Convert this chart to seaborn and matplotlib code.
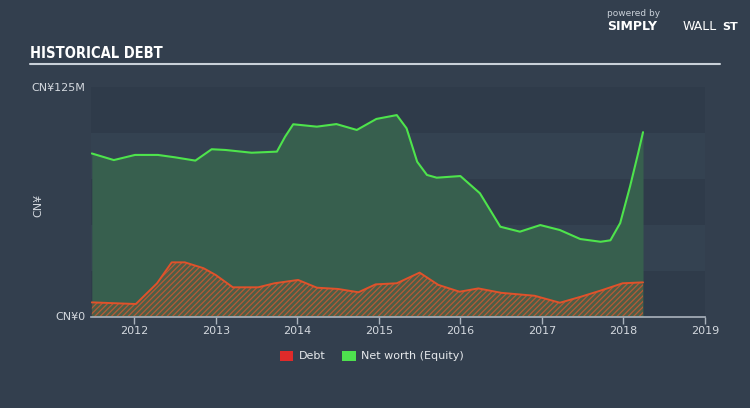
import matplotlib
matplotlib.use("Agg")
import matplotlib.pyplot as plt
import seaborn as sns
import pandas as pd
from matplotlib.patches import Patch
from matplotlib.lines import Line2D

sns.set_theme(style="dark")
plt.rcParams['font.family'] = ['DejaVu Sans']
plt.rcParams['hatch.linewidth'] = 0.9

# ---- data (CNY millions) ----
nw_years = [2011.48, 2011.75, 2012.01, 2012.29, 2012.50, 2012.75, 2012.95, 2013.12,
            2013.44, 2013.75, 2013.85, 2013.95, 2014.24, 2014.48, 2014.73, 2014.97,
            2015.22, 2015.34, 2015.47, 2015.59, 2015.71, 2016.00, 2016.24, 2016.49,
            2016.73, 2016.98, 2017.22, 2017.47, 2017.72, 2017.84, 2017.96, 2018.08,
            2018.18, 2018.24]
net_worth = [88.8, 85.2, 88.0, 88.0, 86.7, 84.9, 91.1, 90.7,
             89.2, 89.8, 97.9, 104.7, 103.4, 104.8, 101.6, 107.6,
             109.7, 102.5, 84.3, 77.1, 75.6, 76.5, 67.1, 48.9,
             46.2, 49.8, 47.1, 42.2, 40.7, 41.5, 50.9, 70.7,
             88.9, 100.4]

debt_years = [2011.48, 2012.02, 2012.28, 2012.46, 2012.62, 2012.85, 2013.00, 2013.21,
              2013.52, 2013.72, 2014.01, 2014.24, 2014.50, 2014.75, 2014.96, 2015.22,
              2015.50, 2015.73, 2015.99, 2016.22, 2016.50, 2016.91, 2017.22, 2017.48,
              2017.74, 2017.99, 2018.24]
debt = [7.7, 6.8, 18.1, 29.5, 29.5, 26.3, 22.6, 15.9,
        15.9, 18.1, 19.9, 15.7, 15.0, 13.2, 17.5, 18.1,
        23.9, 17.2, 13.5, 15.3, 12.9, 11.3, 7.5, 10.8,
        14.4, 18.1, 18.6]

year_ticks = [2012, 2013, 2014, 2015, 2016, 2017, 2018, 2019]
y_ticks = [0, 125]
y_tick_labels = ["CN¥0", "CN¥125M"]

BG = "#333f4e"
BAND_DARK = "#2f3b4a"
BAND_LIGHT = "#344251"
GREEN = "#4ee44c"
GREEN_FILL = "#375f4e"
RED_LINE = "#e0522b"
TXT = "#d3d8de"

fig = plt.figure(figsize=(7.5, 4.08), dpi=100, facecolor=BG)
ax = fig.add_axes([91/750, 1 - 316.5/408, 614/750, 229.5/408])
ax.set_facecolor(BAND_LIGHT)

for lo in (0, 50, 100):
    ax.axhspan(lo, lo + 25, color=BAND_DARK, zorder=0, lw=0)

nw_df = pd.DataFrame({"year": nw_years, "value": net_worth})
debt_df = pd.DataFrame({"year": debt_years, "value": debt})

ax.fill_between(nw_years, net_worth, 0, color=GREEN_FILL, lw=0, zorder=1)
ax.fill_between(debt_years, debt, 0, facecolor="#4d5e46", edgecolor="#b65a36",
                hatch="//////", lw=0, zorder=2)
sns.lineplot(data=debt_df, x="year", y="value", color=RED_LINE, lw=1.4, ax=ax, zorder=3)
sns.lineplot(data=nw_df, x="year", y="value", color=GREEN, lw=1.5, ax=ax, zorder=4)

ax.set_xlim(2011.47, 2019.0)
ax.set_ylim(0, 125)
ax.set_xticks(year_ticks)
ax.set_xticklabels([str(y) for y in year_ticks], color=TXT, fontsize=8)
ax.set_yticks(y_ticks)
ax.set_yticklabels(y_tick_labels, color=TXT, fontsize=8)
ax.tick_params(axis="x", length=5, width=1, color="#aab3bd", pad=2, direction="out", bottom=True)
ax.tick_params(axis="y", length=0, pad=4)
ax.set_xlabel("")
ax.set_ylabel("")
ax.grid(False)
for s in ("top", "right", "left"):
    ax.spines[s].set_visible(False)
ax.spines["bottom"].set_color("#aab3bd")
ax.spines["bottom"].set_linewidth(1.2)

# y-axis unit label
fig.text(38/750, 1 - 205/408, "CN¥", rotation=90, color=TXT, fontsize=8,
         ha="center", va="center")

# title and rule
fig.text(30/750, 1 - 53/408, "HISTORICAL DEBT", color="white", fontsize=10.5,
         fontweight="bold", family=["Liberation Sans Narrow", "DejaVu Sans"],
         fontstretch="condensed", ha="left", va="center")
fig.add_artist(Line2D([30/750, 720/750], [1 - 64/408, 1 - 64/408],
                      color="#c9d0d8", lw=1.5, transform=fig.transFigure))

# branding
fig.text(607/750, 1 - 14/408, "powered by", color="#c9d0d8", fontsize=6.5, ha="left", va="center")
fig.text(607/750, 1 - 27/408, "SIMPLY", color="white", fontsize=9, fontweight="bold",
         ha="left", va="center")
fig.text(683/750, 1 - 27/408, "WALL", color="white", fontsize=9, ha="left", va="center")
fig.text(722/750, 1 - 27/408, "ST", color="white", fontsize=8, fontweight="bold",
         ha="left", va="center")

# legend
handles = [Patch(facecolor="#e02a2a", edgecolor="none", label="Debt"),
           Patch(facecolor="#4ee04e", edgecolor="none", label="Net worth (Equity)")]
leg = fig.legend(handles=handles, loc="center", bbox_to_anchor=(372/750, 1 - 356/408),
                 ncol=2, frameon=False, fontsize=8, handlelength=1.2, handleheight=1.0,
                 handletextpad=0.5, columnspacing=1.5)
for t in leg.get_texts():
    t.set_color("#e6e9ec")

fig.savefig("out.png", dpi=100, facecolor=BG)
